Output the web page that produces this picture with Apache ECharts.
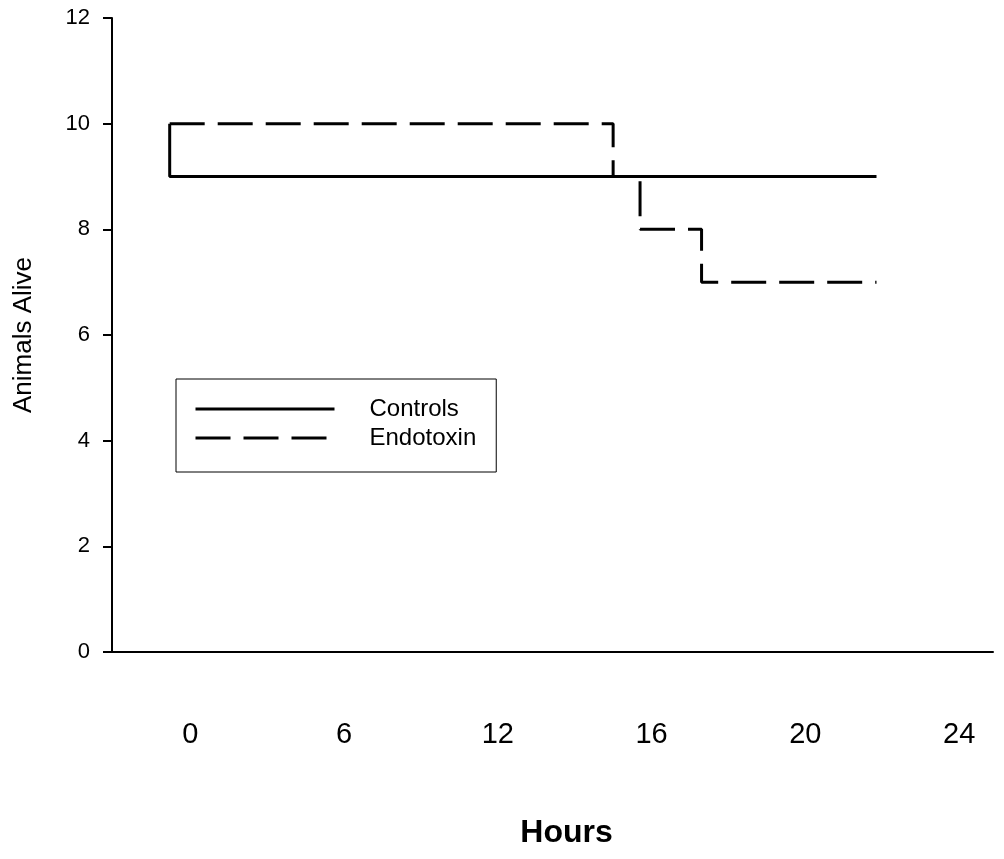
<!DOCTYPE html>
<html>
<head>
<meta charset="utf-8">
<script src="https://cdn.jsdelivr.net/npm/echarts@6/dist/echarts.min.js"></script>
<style>
  html, body { margin: 0; padding: 0; background: #fff; }
  #chart { width: 1004px; height: 859px; }
</style>
</head>
<body>
<div id="chart"></div>
<script>
// ---- Data ----
const hourTicks = [0, 6, 12, 16, 20, 24];              // x-axis labels (hours), equally spaced on the axis
const yTicks = [0, 2, 4, 6, 8, 10, 12];
const seriesNames = ['Controls', 'Endotoxin'];
const controlsHours = [-0.8, -0.8, 21.85];
const controlsAlive = [10, 9, 9];
const endotoxinHours = [-0.8, 15.0, 15.0, 15.7, 15.7, 17.3, 17.3, 21.85];
const endotoxinAlive = [10, 10, 9, 9, 8, 8, 7, 7];

// The hour labels sit at equal steps on the axis: map hours onto that ordinal position
function toSlot(h) {
  const n = hourTicks.length;
  let i = 0;
  if (h <= hourTicks[0]) i = 0;
  else if (h >= hourTicks[n - 1]) i = n - 2;
  else { while (i < n - 2 && h > hourTicks[i + 1]) i++; }
  return i + (h - hourTicks[i]) / (hourTicks[i + 1] - hourTicks[i]);
}
function pairs(xs, ys) { return xs.map((x, k) => [toSlot(x), ys[k]]); }

const FONT = '"Liberation Sans", Arial, sans-serif';
const chart = echarts.init(document.getElementById('chart'), null, { renderer: 'canvas' });

chart.setOption({
  animation: false,
  backgroundColor: '#fff',
  grid: { left: 112, right: 11, top: 18, bottom: 207, containLabel: false },
  legend: {
    orient: 'vertical',
    left: 176, top: 379,
    padding: [18, 20, 22, 18],
    borderColor: '#000', borderWidth: 1,
    itemWidth: 139, itemHeight: 14, itemGap: 5,
    itemStyle: { opacity: 0 },
    lineStyle: { width: 3 },
    textStyle: { fontFamily: FONT, fontSize: 24, lineHeight: 24, color: '#000', padding: [0, 0, 0, 30] },
    data: seriesNames
  },
  xAxis: {
    type: 'value',
    min: -0.5085, max: 5.22,
    name: 'Hours',
    nameLocation: 'middle',
    nameGap: 165,
    nameTextStyle: { fontFamily: FONT, fontSize: 32, fontWeight: 'bold', color: '#000', padding: [0, 0, 0, 28] },
    axisLine: { show: true, onZero: false, lineStyle: { color: '#000', width: 2 } },
    axisTick: { show: false },
    splitLine: { show: false },
    axisLabel: {
      customValues: hourTicks.map((h, i) => i),
      formatter: v => String(hourTicks[Math.round(v)]),
      fontFamily: FONT, fontSize: 29, color: '#000', margin: 68
    }
  },
  yAxis: {
    type: 'value',
    min: 0, max: 12, interval: 2,
    name: 'Animals Alive',
    nameLocation: 'middle',
    nameRotate: 90,
    nameGap: 75,
    nameTextStyle: { fontFamily: FONT, fontSize: 26, color: '#000' },
    axisLine: { show: true, onZero: false, lineStyle: { color: '#000', width: 2 } },
    axisTick: { show: true, inside: false, length: 9, lineStyle: { color: '#000', width: 2 } },
    splitLine: { show: false },
    axisLabel: {
      formatter: v => yTicks.includes(v) ? String(v) : '',
      fontFamily: FONT, fontSize: 22, color: '#000', margin: 22
    }
  },
  series: [
    {
      name: seriesNames[0], type: 'line', symbol: 'none',
      data: pairs(controlsHours, controlsAlive),
      lineStyle: { color: '#000', width: 3, type: 'solid' },
      itemStyle: { color: '#000' }, z: 3
    },
    {
      name: seriesNames[1], type: 'line', symbol: 'none',
      data: pairs(endotoxinHours, endotoxinAlive),
      lineStyle: { color: '#000', width: 3, type: [35, 13], cap: 'butt' },
      itemStyle: { color: '#000' }, z: 2
    }
  ]
});
</script>
</body>
</html>
